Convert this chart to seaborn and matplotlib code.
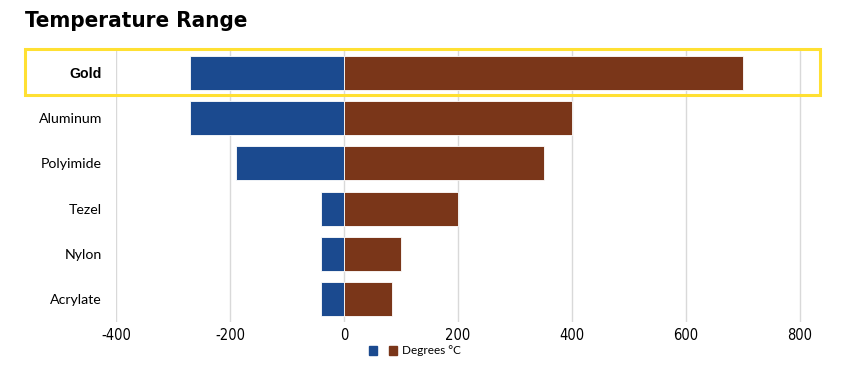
import matplotlib
matplotlib.use("Agg")
import matplotlib.pyplot as plt
import matplotlib.patches as mpatches
import pandas as pd
import seaborn as sns

materials = ["Gold", "Aluminum", "Polyimide", "Tezel", "Nylon", "Acrylate"]
min_temp = [-270, -270, -190, -40, -40, -40]
max_temp = [700, 400, 350, 200, 100, 85]
x_ticks = [-400, -200, 0, 200, 400, 600, 800]

blue = "#1b4a8f"
brown = "#7a3619"

sns.set_theme(style="white")
plt.rcParams["font.family"] = ["Lato", "DejaVu Sans"]
plt.rcParams["text.color"] = "black"
plt.rcParams["xtick.color"] = "black"
plt.rcParams["ytick.color"] = "black"

df = pd.DataFrame({"Material": materials, "Min": min_temp, "Max": max_temp})

fig = plt.figure(figsize=(8.42, 3.72), dpi=100)
ax = fig.add_axes([116 / 842, 1 - 322 / 372, (800 - 116 + 5.7) / 842, 272 / 372])

sns.barplot(data=df, x="Min", y="Material", color=blue, width=0.75,
            saturation=1, orient="h", ax=ax, edgecolor="white", linewidth=0.6, zorder=3)
sns.barplot(data=df, x="Max", y="Material", color=brown, width=0.75,
            saturation=1, orient="h", ax=ax, edgecolor="white", linewidth=0.6, zorder=3)

ax.set_xlim(-400, 810)
ax.set_ylim(5.5, -0.5)
ax.set_xticks(x_ticks)
ax.set_xticklabels([str(t) for t in x_ticks], family=["DejaVu Sans"], stretch="condensed",
                   fontsize=10.5)
ax.xaxis.grid(True, color="#d9d9d9", linewidth=1, zorder=0)
ax.yaxis.grid(False)
ax.set_axisbelow(True)
for s in ax.spines.values():
    s.set_visible(False)
ax.set_xlabel("")
ax.set_ylabel("")
ax.tick_params(axis="y", length=0, pad=10, labelsize=10.2)
ax.tick_params(axis="x", length=0, pad=4)
for lbl in ax.get_yticklabels():
    if lbl.get_text() == "Gold":
        lbl.set_fontweight("bold")
        lbl.set_family(["Liberation Sans", "DejaVu Sans"])

# highlight box around Gold row
fig.patches.append(mpatches.Rectangle((25 / 842, 1 - 95 / 372), (820 - 25) / 842, 46 / 372,
                                      transform=fig.transFigure, fill=False,
                                      edgecolor="#ffe033", linewidth=2.2))

fig.text(25 / 842, 1 - 21 / 372, "Temperature Range", fontsize=16, fontweight="bold",
         family=["DejaVu Sans"], stretch="condensed", va="center", ha="left")

handles = [mpatches.Patch(color=blue), mpatches.Patch(color=brown)]
fig.legend(handles, ["", "Degrees °C"], loc="center", bbox_to_anchor=(415 / 842, 1 - 351 / 372),
           ncol=2, frameon=False, fontsize=8.5, handlelength=0.7, handleheight=0.7,
           handletextpad=0.4, columnspacing=0.6)

fig.savefig("out.png", dpi=100)
